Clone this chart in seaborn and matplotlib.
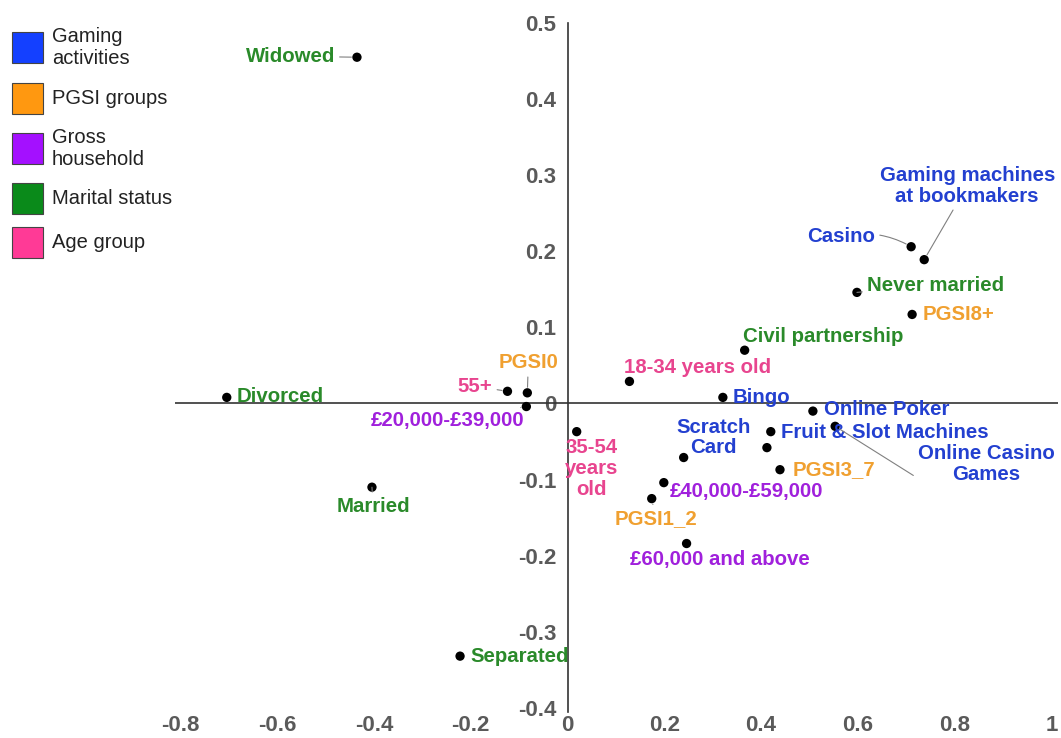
import matplotlib
matplotlib.use("Agg")
import matplotlib.pyplot as plt
import seaborn as sns
import pandas as pd
from matplotlib.patches import Rectangle

# Correspondence-analysis coordinates (dimension 1, dimension 2)
labels = [
    "Widowed", "Divorced", "Married", "Separated", "Never married", "Civil partnership",
    "55+", "35-54\nyears\nold", "18-34 years old",
    "PGSI0", "PGSI1_2", "PGSI3_7", "PGSI8+",
    "£20,000-£39,000", "£40,000-£59,000", "£60,000 and above",
    "Bingo", "Scratch\nCard", "Online Poker", "Fruit & Slot Machines",
    "Online Casino\nGames", "Casino", "Gaming machines\nat bookmakers", "",
]
dim1 = [
    -0.435, -0.704, -0.404, -0.222, 0.598, 0.366,
    -0.124, 0.019, 0.128,
    -0.083, 0.174, 0.439, 0.712,
    -0.085, 0.199, 0.246,
    0.321, 0.240, 0.507, 0.420,
    0.553, 0.710, 0.737, 0.412,
]
dim2 = [
    0.455, 0.008, -0.110, -0.332, 0.146, 0.070,
    0.016, -0.037, 0.029,
    0.014, -0.125, -0.087, 0.117,
    -0.004, -0.104, -0.184,
    0.008, -0.071, -0.010, -0.037,
    -0.030, 0.206, 0.189, -0.058,
]
groups = [
    "Marital status", "Marital status", "Marital status", "Marital status", "Marital status", "Marital status",
    "Age group", "Age group", "Age group",
    "PGSI groups", "PGSI groups", "PGSI groups", "PGSI groups",
    "Gross household", "Gross household", "Gross household",
    "Gaming activities", "Gaming activities", "Gaming activities", "Gaming activities",
    "Gaming activities", "Gaming activities", "Gaming activities", "Gaming activities",
]

group_order = ["Gaming activities", "PGSI groups", "Gross household", "Marital status", "Age group"]
legend_text = ["Gaming\nactivities", "PGSI groups", "Gross\nhousehold", "Marital status", "Age group"]

x_ticks = [-0.8, -0.6, -0.4, -0.2, 0, 0.2, 0.4, 0.6, 0.8, 1]
x_tick_labels = ["-0.8", "-0.6", "-0.4", "-0.2", "0", "0.2", "0.4", "0.6", "0.8", "1"]
y_ticks = [0.5, 0.4, 0.3, 0.2, 0.1, 0, -0.1, -0.2, -0.3, -0.4]
y_tick_labels = ["0.5", "0.4", "0.3", "0.2", "0.1", "0", "-0.1", "-0.2", "-0.3", "-0.4"]

# Styling
text_colors = {
    "Gaming activities": "#2340d0",
    "PGSI groups": "#f0a030",
    "Gross household": "#a020dc",
    "Marital status": "#2a8a2a",
    "Age group": "#e8458f",
}
swatch_colors = {
    "Gaming activities": "#1440ff",
    "PGSI groups": "#ff9810",
    "Gross household": "#a410ff",
    "Marital status": "#0a8a1a",
    "Age group": "#ff3a96",
}

# label placement: offset in pixels (dx, dy up), horizontal alignment, leader line
placement = [
    (-22, 1, "right", True), (10, 1, "left", False), (1, -19, "center", True), (10, 0, "left", False),
    (10, 7, "left", True), (79, 14, "center", False),
    (-15, 5, "right", True), (15, -37, "center", False), (68, 14, "center", False),
    (1, 30, "center", True), (4, -20, "center", True), (13, 0, "left", False), (11, 0, "left", False),
    (-79, -14, "center", True), (6, -9, "left", False), (33, -16, "center", False),
    (10, 0, "left", False), (30, 20, "center", False), (11, 2, "left", False), (10, -1, "left", False),
    (151, -38, "center", True), (-36, 10, "right", True), (43, 74, "center", True), (0, 0, "left", False),
]

df = pd.DataFrame({"label": labels, "dim1": dim1, "dim2": dim2, "group": groups})

sns.set_theme(style="white")
plt.rcParams["font.family"] = ["Liberation Sans", "DejaVu Sans"]

W, H = 1061, 738
fig = plt.figure(figsize=(W / 100, H / 100), dpi=100)
fig.patch.set_facecolor("white")
ax = fig.add_axes([0, 26 / H, 1, 712 / H])
ax.set_facecolor("white")
ax.set_xlim(-1.1725, 1.0196)
ax.set_ylim(-0.4054, 0.5302)

# axis lines crossing at the origin
for side in ["top", "right", "bottom"]:
    ax.spines[side].set_visible(False)
ax.spines["left"].set_position(("data", 0))
ax.spines["left"].set_bounds(-0.405, 0.5)
ax.spines["left"].set_color("#333333")
ax.spines["left"].set_linewidth(1.2)
ax.hlines(0, -0.811, 1.0134, color="#333333", linewidth=1.2, zorder=1)

ax.set_xticks(x_ticks, x_tick_labels)
ax.set_yticks(y_ticks, y_tick_labels)
ax.tick_params(axis="x", length=0, pad=2, labelsize=16, labelcolor="#5a5a5a")
ax.tick_params(axis="y", length=0, pad=8, labelsize=16, labelcolor="#5a5a5a")
for t in ax.get_xticklabels() + ax.get_yticklabels():
    t.set_fontweight("bold")

sns.scatterplot(data=df, x="dim1", y="dim2", color="black", s=45, edgecolor="none",
                ax=ax, zorder=3, legend=False)
ax.set_xlabel("")
ax.set_ylabel("")

for (lab, x, y, g), (dx, dy, ha, leader) in zip(df[["label", "dim1", "dim2", "group"]].values, placement):
    if not lab:
        continue
    arrow = None
    if leader:
        arrow = dict(arrowstyle="-", color="#808080", lw=0.8, shrinkA=1, shrinkB=4)
        if lab == "Casino":
            arrow["connectionstyle"] = "arc3,rad=-0.2"
        if lab.startswith("Online Casino"):
            arrow["relpos"] = (0.0, 0.15)
    ax.annotate(lab, xy=(x, y), xytext=(dx, dy), textcoords="offset pixels",
                ha=ha, va="center", multialignment="center", linespacing=1.12,
                fontsize=14.7, fontweight="bold", color=text_colors[g],
                arrowprops=arrow, zorder=4)

# category key
tops = [32, 83, 133, 183, 227]
for top, g, txt in zip(tops, group_order, legend_text):
    fig.add_artist(Rectangle((12 / W, 1 - (top + 31) / H), 31 / W, 31 / H,
                             transform=fig.transFigure, facecolor=swatch_colors[g],
                             edgecolor="#444444", linewidth=0.8))
    fig.text(52 / W, 1 - (top + 15.5) / H, txt, ha="left", va="center",
             fontsize=14.5, color="#222222", linespacing=1.2)

fig.savefig("out.png", dpi=100, facecolor="white")
